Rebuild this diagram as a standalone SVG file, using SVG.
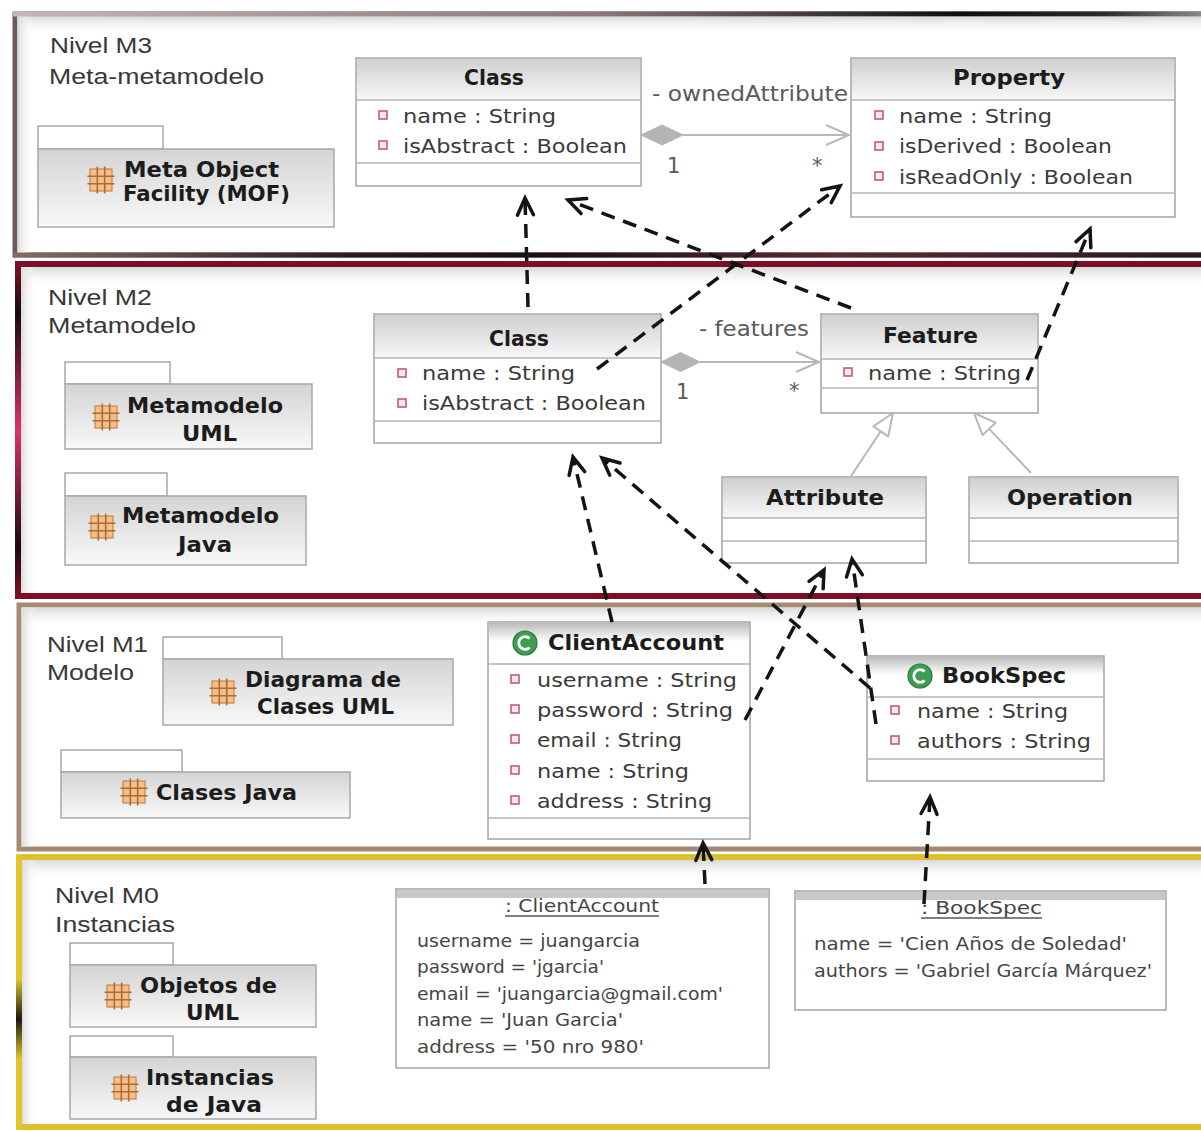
<svg xmlns="http://www.w3.org/2000/svg" width="1201" height="1131" viewBox="0 0 1201 1131">
<defs>
<style>
.lvl{font-family:"Liberation Sans",Arial,sans-serif;font-size:22px;fill:#383838}
.pkg{font-family:"DejaVu Sans",Verdana,sans-serif;font-weight:bold;font-size:22px;fill:#1c1c1c}
.ttl{font-family:"DejaVu Sans",Verdana,sans-serif;font-weight:bold;font-size:21px;fill:#1c1c1c}
.attr{font-family:"DejaVu Sans",Verdana,sans-serif;font-size:20px;fill:#3a3a3a}
.asc{font-family:"DejaVu Sans",Verdana,sans-serif;font-size:21px;fill:#5a5a5a}
.inst{font-family:"DejaVu Sans",Verdana,sans-serif;font-size:18px;fill:#454545}
.box{fill:#fff;stroke:#a4a4a4;stroke-width:1.5}
.hdr{fill:url(#gHdr)}
.hdr2{fill:url(#gHdr2)}
.sep{stroke:#b4b4b4;stroke-width:1.5}
.aic{fill:#fbe8ee;stroke:#c2506e;stroke-width:1.5}
.tab{fill:#fff;stroke:#a8a8a8;stroke-width:1.5}
.pbody{fill:url(#gPkg);stroke:#a8a8a8;stroke-width:1.5}
.dep{fill:none;stroke:#141414;stroke-width:3.5;stroke-dasharray:14 9;marker-end:url(#open)}
.gline{fill:none;stroke:#b8b8b8;stroke-width:2}
.frame{fill:#fff}
</style>
<linearGradient id="gHdr" x1="0" y1="0" x2="0" y2="1"><stop offset="0" stop-color="#d0d0d0"/><stop offset="1" stop-color="#f7f7f7"/></linearGradient>
<linearGradient id="gHdr2" x1="0" y1="0" x2="0" y2="1"><stop offset="0" stop-color="#bcbcbc"/><stop offset="0.45" stop-color="#ffffff"/><stop offset="1" stop-color="#ffffff"/></linearGradient>
<linearGradient id="gPkg" x1="0" y1="0" x2="0" y2="1"><stop offset="0" stop-color="#d4d4d4"/><stop offset="1" stop-color="#f8f8f8"/></linearGradient>
<linearGradient id="gShade" x1="0" y1="0" x2="0" y2="1"><stop offset="0" stop-color="#d8d8d8"/><stop offset="1" stop-color="#ffffff" stop-opacity="0"/></linearGradient>
<linearGradient id="gShadeL" x1="0" y1="0" x2="1" y2="0"><stop offset="0" stop-color="#dcdcdc"/><stop offset="1" stop-color="#ffffff" stop-opacity="0"/></linearGradient>
<linearGradient id="gTop3" x1="0" y1="0" x2="1201" y2="0" gradientUnits="userSpaceOnUse"><stop offset="0" stop-color="#c9b6b6"/><stop offset="0.5" stop-color="#8c7676"/><stop offset="0.8" stop-color="#0e0e0e"/><stop offset="0.92" stop-color="#2a2a2a"/><stop offset="1" stop-color="#8a8a8a"/></linearGradient>
<linearGradient id="gBot3" x1="0" y1="0" x2="1201" y2="0" gradientUnits="userSpaceOnUse"><stop offset="0" stop-color="#8a6e6a"/><stop offset="0.3" stop-color="#2a1a1a"/><stop offset="0.45" stop-color="#1a1010"/><stop offset="0.7" stop-color="#5a2a30"/><stop offset="1" stop-color="#2a1a1a"/></linearGradient>
<linearGradient id="gL2" x1="0" y1="264" x2="0" y2="596" gradientUnits="userSpaceOnUse"><stop offset="0" stop-color="#7c0f27"/><stop offset="0.15" stop-color="#1a0a0e"/><stop offset="0.5" stop-color="#e0306a"/><stop offset="0.85" stop-color="#1a0a0e"/><stop offset="1" stop-color="#7c0f27"/></linearGradient>
<linearGradient id="gL0" x1="0" y1="857" x2="0" y2="1127" gradientUnits="userSpaceOnUse"><stop offset="0" stop-color="#e2c52e"/><stop offset="0.45" stop-color="#e2c52e"/><stop offset="0.6" stop-color="#1a1a0a"/><stop offset="0.75" stop-color="#e2c52e"/><stop offset="1" stop-color="#e2c52e"/></linearGradient>
<marker id="open" viewBox="-21 -11 28 22" refX="0" refY="0" markerWidth="28" markerHeight="22" markerUnits="userSpaceOnUse" orient="auto">
<path d="M-17,-8 L0,0 L-17,8" fill="none" stroke="#141414" stroke-width="3.5" stroke-linecap="round"/>
</marker>
<g id="pkgicon">
<rect x="-11" y="-11" width="22" height="22" fill="#f3c08a" stroke="#c8864a" stroke-width="1.2"/>
<path d="M-3.7,-13.5V13.5M3.7,-13.5V13.5M-13.5,-3.7H13.5M-13.5,3.7H13.5" stroke="#b06a34" stroke-width="1.6" fill="none"/>
</g>
<g id="cicon">
<circle r="12" fill="#3d9d52" stroke="#2a7a3b" stroke-width="1.2"/>
<path d="M4.6,-4.4 A6.3,6.3 0 1 0 4.6,4.4" fill="none" stroke="#ffffff" stroke-width="2.8"/>
</g>
</defs>

<!-- Level frames -->
<g id="level-M3">
<rect class="frame" x="15" y="14" width="1200" height="241" stroke="#6e5c5a" stroke-width="5"/>
<line x1="13" y1="14" x2="1201" y2="14" stroke="url(#gTop3)" stroke-width="5"/>
<line x1="13" y1="255" x2="1201" y2="255" stroke="url(#gBot3)" stroke-width="5"/>
<rect x="17.5" y="16.5" width="1190" height="18" fill="url(#gShade)"/>
<rect x="17.5" y="16.5" width="16" height="236" fill="url(#gShadeL)"/>
<text class="lvl" x="50" y="53" textLength="102" lengthAdjust="spacingAndGlyphs">Nivel M3</text>
<text class="lvl" x="49" y="84" textLength="215" lengthAdjust="spacingAndGlyphs">Meta-metamodelo</text>
</g>
<g id="level-M2">
<rect class="frame" x="18" y="264" width="1200" height="332" stroke="#7c0f27" stroke-width="6"/>
<line x1="18" y1="261" x2="18" y2="599" stroke="url(#gL2)" stroke-width="6"/>
<rect x="21" y="267" width="1190" height="20" fill="url(#gShade)"/>
<rect x="21" y="267" width="16" height="326" fill="url(#gShadeL)"/>
<text class="lvl" x="48" y="305" textLength="104" lengthAdjust="spacingAndGlyphs">Nivel M2</text>
<text class="lvl" x="48" y="333" textLength="148" lengthAdjust="spacingAndGlyphs">Metamodelo</text>
</g>
<g id="level-M1">
<rect class="frame" x="19" y="605" width="1200" height="244" stroke="#a48a72" stroke-width="5"/>
<rect x="21.5" y="607.5" width="1190" height="20" fill="url(#gShade)"/>
<rect x="21.5" y="607.5" width="16" height="239" fill="url(#gShadeL)"/>
<text class="lvl" x="47" y="652" textLength="101" lengthAdjust="spacingAndGlyphs">Nivel M1</text>
<text class="lvl" x="47" y="680" textLength="87" lengthAdjust="spacingAndGlyphs">Modelo</text>
</g>
<g id="level-M0">
<rect class="frame" x="19" y="857" width="1200" height="270" stroke="#dcc02c" stroke-width="6"/>
<line x1="19" y1="854" x2="19" y2="1130" stroke="url(#gL0)" stroke-width="6"/>
<rect x="22" y="860" width="1190" height="20" fill="url(#gShade)"/>
<rect x="22" y="860" width="16" height="264" fill="url(#gShadeL)"/>
<text class="lvl" x="55" y="903" textLength="104" lengthAdjust="spacingAndGlyphs">Nivel M0</text>
<text class="lvl" x="55" y="932" textLength="120" lengthAdjust="spacingAndGlyphs">Instancias</text>
</g>

<!-- Packages -->
<g id="pkg-mof">
<rect class="tab" x="38" y="126" width="125" height="23"/>
<rect class="pbody" x="38" y="149" width="296" height="78"/>
<use href="#pkgicon" x="101" y="180"/>
<text class="pkg" x="124" y="177" textLength="155" lengthAdjust="spacingAndGlyphs">Meta Object</text>
<text class="pkg" x="123" y="201" textLength="167" lengthAdjust="spacingAndGlyphs">Facility (MOF)</text>
</g>
<g id="pkg-mm-uml">
<rect class="tab" x="65" y="362" width="105" height="22"/>
<rect class="pbody" x="65" y="384" width="247" height="65"/>
<use href="#pkgicon" x="106" y="417"/>
<text class="pkg" x="127" y="413" textLength="156" lengthAdjust="spacingAndGlyphs">Metamodelo</text>
<text class="pkg" x="182" y="441" textLength="55" lengthAdjust="spacingAndGlyphs">UML</text>
</g>
<g id="pkg-mm-java">
<rect class="tab" x="65" y="473" width="102" height="23"/>
<rect class="pbody" x="65" y="496" width="241" height="69"/>
<use href="#pkgicon" x="102" y="527"/>
<text class="pkg" x="122" y="523" textLength="157" lengthAdjust="spacingAndGlyphs">Metamodelo</text>
<text class="pkg" x="178" y="552" textLength="54" lengthAdjust="spacingAndGlyphs">Java</text>
</g>
<g id="pkg-diagrama">
<rect class="tab" x="163" y="637" width="119" height="22"/>
<rect class="pbody" x="163" y="659" width="290" height="66"/>
<use href="#pkgicon" x="223" y="692"/>
<text class="pkg" x="245" y="687" textLength="156" lengthAdjust="spacingAndGlyphs">Diagrama de</text>
<text class="pkg" x="257" y="714" textLength="137" lengthAdjust="spacingAndGlyphs">Clases UML</text>
</g>
<g id="pkg-clases-java">
<rect class="tab" x="61" y="750" width="121" height="22"/>
<rect class="pbody" x="61" y="772" width="289" height="46"/>
<use href="#pkgicon" x="134" y="792"/>
<text class="pkg" x="156" y="800" textLength="141" lengthAdjust="spacingAndGlyphs">Clases Java</text>
</g>
<g id="pkg-objetos">
<rect class="tab" x="70" y="943" width="103" height="22"/>
<rect class="pbody" x="70" y="965" width="246" height="62"/>
<use href="#pkgicon" x="118" y="996"/>
<text class="pkg" x="140" y="993" textLength="137" lengthAdjust="spacingAndGlyphs">Objetos de</text>
<text class="pkg" x="186" y="1020" textLength="53" lengthAdjust="spacingAndGlyphs">UML</text>
</g>
<g id="pkg-instancias">
<rect class="tab" x="70" y="1036" width="103" height="21"/>
<rect class="pbody" x="70" y="1057" width="246" height="62"/>
<use href="#pkgicon" x="125" y="1088"/>
<text class="pkg" x="146" y="1085" textLength="128" lengthAdjust="spacingAndGlyphs">Instancias</text>
<text class="pkg" x="166" y="1112" textLength="96" lengthAdjust="spacingAndGlyphs">de Java</text>
</g>

<!-- M3 classes -->
<g id="m3-class">
<rect class="box" x="356" y="58" width="285" height="128"/>
<rect class="hdr" x="357" y="59" width="283" height="41"/>
<line class="sep" x1="356" y1="100" x2="641" y2="100"/>
<line class="sep" x1="356" y1="163" x2="641" y2="163"/>
<text class="ttl" x="464" y="85" textLength="60" lengthAdjust="spacingAndGlyphs">Class</text>
<rect class="aic" x="379" y="111" width="8" height="8"/>
<text class="attr" x="403" y="123" textLength="153" lengthAdjust="spacingAndGlyphs">name : String</text>
<rect class="aic" x="379" y="141" width="8" height="8"/>
<text class="attr" x="403" y="153" textLength="224" lengthAdjust="spacingAndGlyphs">isAbstract : Boolean</text>
</g>
<g id="m3-property">
<rect class="box" x="851" y="58" width="324" height="159"/>
<rect class="hdr" x="852" y="59" width="322" height="41"/>
<line class="sep" x1="851" y1="100" x2="1175" y2="100"/>
<line class="sep" x1="851" y1="193" x2="1175" y2="193"/>
<text class="ttl" x="953" y="85" textLength="112" lengthAdjust="spacingAndGlyphs">Property</text>
<rect class="aic" x="875" y="111" width="8" height="8"/>
<text class="attr" x="899" y="123" textLength="153" lengthAdjust="spacingAndGlyphs">name : String</text>
<rect class="aic" x="875" y="142" width="8" height="8"/>
<text class="attr" x="899" y="153" textLength="213" lengthAdjust="spacingAndGlyphs">isDerived : Boolean</text>
<rect class="aic" x="875" y="172" width="8" height="8"/>
<text class="attr" x="899" y="184" textLength="234" lengthAdjust="spacingAndGlyphs">isReadOnly : Boolean</text>
</g>

<!-- M2 classes -->
<g id="m2-class">
<rect class="box" x="374" y="314" width="287" height="129"/>
<rect class="hdr" x="375" y="315" width="285" height="43"/>
<line class="sep" x1="374" y1="358" x2="661" y2="358"/>
<line class="sep" x1="374" y1="421" x2="661" y2="421"/>
<text class="ttl" x="489" y="346" textLength="60" lengthAdjust="spacingAndGlyphs">Class</text>
<rect class="aic" x="398" y="369" width="8" height="8"/>
<text class="attr" x="422" y="380" textLength="153" lengthAdjust="spacingAndGlyphs">name : String</text>
<rect class="aic" x="398" y="399" width="8" height="8"/>
<text class="attr" x="422" y="410" textLength="224" lengthAdjust="spacingAndGlyphs">isAbstract : Boolean</text>
</g>
<g id="m2-feature">
<rect class="box" x="821" y="314" width="217" height="99"/>
<rect class="hdr" x="822" y="315" width="215" height="44"/>
<line class="sep" x1="821" y1="359" x2="1038" y2="359"/>
<line class="sep" x1="821" y1="388" x2="1038" y2="388"/>
<text class="ttl" x="883" y="343" textLength="95" lengthAdjust="spacingAndGlyphs">Feature</text>
<rect class="aic" x="844" y="368" width="8" height="8"/>
<text class="attr" x="868" y="380" textLength="153" lengthAdjust="spacingAndGlyphs">name : String</text>
</g>
<g id="m2-attribute">
<rect class="box" x="722" y="477" width="204" height="86"/>
<rect class="hdr" x="723" y="478" width="202" height="40"/>
<line class="sep" x1="722" y1="518" x2="926" y2="518"/>
<line class="sep" x1="722" y1="541" x2="926" y2="541"/>
<text class="ttl" x="766" y="505" textLength="118" lengthAdjust="spacingAndGlyphs">Attribute</text>
</g>
<g id="m2-operation">
<rect class="box" x="969" y="477" width="209" height="86"/>
<rect class="hdr" x="970" y="478" width="207" height="40"/>
<line class="sep" x1="969" y1="518" x2="1178" y2="518"/>
<line class="sep" x1="969" y1="541" x2="1178" y2="541"/>
<text class="ttl" x="1007" y="505" textLength="126" lengthAdjust="spacingAndGlyphs">Operation</text>
</g>

<!-- M1 classes -->
<g id="m1-clientaccount">
<rect class="box" x="488" y="622" width="262" height="217"/>
<rect class="hdr2" x="489" y="623" width="260" height="41"/>
<line class="sep" x1="488" y1="664" x2="750" y2="664"/>
<line class="sep" x1="488" y1="818" x2="750" y2="818"/>
<use href="#cicon" x="525" y="643"/>
<text class="ttl" x="548" y="650" textLength="176" lengthAdjust="spacingAndGlyphs">ClientAccount</text>
<rect class="aic" x="511" y="675" width="8" height="8"/>
<text class="attr" x="537" y="687" textLength="200" lengthAdjust="spacingAndGlyphs">username : String</text>
<rect class="aic" x="511" y="705" width="8" height="8"/>
<text class="attr" x="537" y="717" textLength="196" lengthAdjust="spacingAndGlyphs">password : String</text>
<rect class="aic" x="511" y="735" width="8" height="8"/>
<text class="attr" x="537" y="747" textLength="145" lengthAdjust="spacingAndGlyphs">email : String</text>
<rect class="aic" x="511" y="766" width="8" height="8"/>
<text class="attr" x="537" y="778" textLength="152" lengthAdjust="spacingAndGlyphs">name : String</text>
<rect class="aic" x="511" y="796" width="8" height="8"/>
<text class="attr" x="537" y="808" textLength="175" lengthAdjust="spacingAndGlyphs">address : String</text>
</g>
<g id="m1-bookspec">
<rect class="box" x="867" y="656" width="237" height="125"/>
<rect class="hdr2" x="868" y="657" width="235" height="40"/>
<line class="sep" x1="867" y1="697" x2="1104" y2="697"/>
<line class="sep" x1="867" y1="759" x2="1104" y2="759"/>
<use href="#cicon" x="920" y="676"/>
<text class="ttl" x="942" y="683" textLength="124" lengthAdjust="spacingAndGlyphs">BookSpec</text>
<rect class="aic" x="891" y="706" width="8" height="8"/>
<text class="attr" x="917" y="718" textLength="151" lengthAdjust="spacingAndGlyphs">name : String</text>
<rect class="aic" x="891" y="736" width="8" height="8"/>
<text class="attr" x="917" y="748" textLength="174" lengthAdjust="spacingAndGlyphs">authors : String</text>
</g>

<!-- M0 instances -->
<g id="m0-clientaccount">
<rect class="box" x="396" y="889" width="373" height="179"/>
<rect x="397" y="890" width="371" height="8" fill="#c8c8c8"/>
<text class="inst" x="505" y="912" textLength="154" lengthAdjust="spacingAndGlyphs">: ClientAccount</text>
<line x1="505" y1="916" x2="659" y2="916" stroke="#555" stroke-width="1.3"/>
<text class="inst" x="417" y="947" textLength="223" lengthAdjust="spacingAndGlyphs">username = juangarcia</text>
<text class="inst" x="417" y="973" textLength="187" lengthAdjust="spacingAndGlyphs">password = 'jgarcia'</text>
<text class="inst" x="417" y="1000" textLength="306" lengthAdjust="spacingAndGlyphs">email = 'juangarcia@gmail.com'</text>
<text class="inst" x="417" y="1026" textLength="206" lengthAdjust="spacingAndGlyphs">name = 'Juan Garcia'</text>
<text class="inst" x="417" y="1053" textLength="227" lengthAdjust="spacingAndGlyphs">address = '50 nro 980'</text>
</g>
<g id="m0-bookspec">
<rect class="box" x="795" y="891" width="371" height="119"/>
<rect x="796" y="892" width="369" height="8" fill="#c8c8c8"/>
<text class="inst" x="921" y="914" textLength="121" lengthAdjust="spacingAndGlyphs">: BookSpec</text>
<line x1="921" y1="918" x2="1042" y2="918" stroke="#555" stroke-width="1.3"/>
<text class="inst" x="814" y="950" textLength="313" lengthAdjust="spacingAndGlyphs">name = 'Cien Años de Soledad'</text>
<text class="inst" x="814" y="977" textLength="338" lengthAdjust="spacingAndGlyphs">authors = 'Gabriel García Márquez'</text>
</g>

<!-- Connectors -->
<g id="connectors">
<!-- associations -->
<polygon points="641,135 662,125 683,135 662,145" fill="#b4b4b4" stroke="#b4b4b4" stroke-width="1"/>
<line class="gline" x1="683" y1="135" x2="850" y2="135"/>
<polyline class="gline" points="826,125 849,135 826,145"/>
<text class="asc" x="652" y="101" textLength="196" lengthAdjust="spacingAndGlyphs">- ownedAttribute</text>
<text class="asc" x="667" y="173" font-size="20">1</text>
<text class="asc" x="812" y="173" font-size="20">*</text>
<polygon points="661,362 680.5,352.5 700,362 680.5,371.5" fill="#b4b4b4" stroke="#b4b4b4" stroke-width="1"/>
<line class="gline" x1="700" y1="362" x2="820" y2="362"/>
<polyline class="gline" points="796,352 819,362 796,372"/>
<text class="asc" x="699" y="336" textLength="110" lengthAdjust="spacingAndGlyphs">- features</text>
<text class="asc" x="676" y="399" font-size="20">1</text>
<text class="asc" x="789" y="398" font-size="20">*</text>
<!-- generalizations -->
<line class="gline" x1="851" y1="476" x2="880.8" y2="431.3"/>
<polygon points="893,413 888.3,436.3 873.3,426.3" fill="#fff" stroke="#b8b8b8" stroke-width="2" stroke-linejoin="round"/>
<line class="gline" x1="1031" y1="473" x2="989.1" y2="428.9"/>
<polygon points="974,413 995.6,422.7 982.6,435.1" fill="#fff" stroke="#b8b8b8" stroke-width="2" stroke-linejoin="round"/>
<!-- dependencies (instance-of) -->
<line class="dep" x1="528" y1="307" x2="525" y2="198"/>
<line class="dep" x1="851" y1="308" x2="568" y2="200"/>
<line class="dep" x1="597" y1="369" x2="840" y2="186"/>
<line class="dep" x1="1027" y1="380" x2="1090" y2="229"/>
<line class="dep" x1="612" y1="622" x2="573" y2="457"/>
<line class="dep" x1="870" y1="688" x2="602" y2="458"/>
<line class="dep" x1="745" y1="720" x2="824" y2="570"/>
<line class="dep" x1="876" y1="724" x2="852" y2="559"/>
<line class="dep" x1="705" y1="884" x2="703" y2="843"/>
<line class="dep" x1="924" y1="904" x2="930" y2="797"/>
</g>
</svg>
